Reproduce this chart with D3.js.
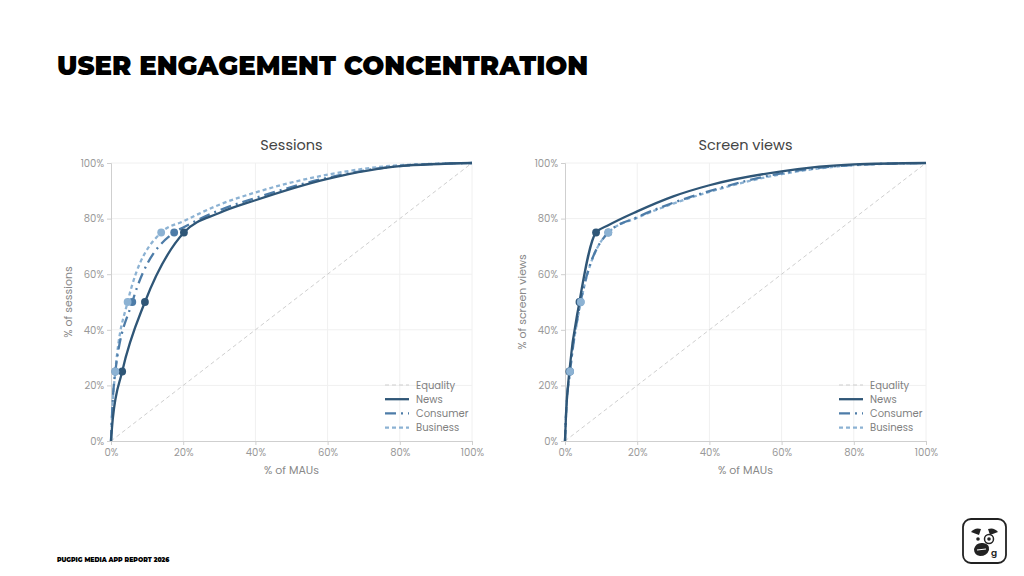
<!DOCTYPE html>
<html><head><meta charset="utf-8">
<script src="https://cdn.jsdelivr.net/npm/d3@7"></script>
<style>
html,body{margin:0;padding:0;background:#fff;}
svg{display:block;}
</style></head>
<body>
<svg id="c" width="1024" height="576"></svg>
<script>
// ---- data ----
const seriesNames = ["News", "Consumer", "Business"];
const xTicks = [0, 20, 40, 60, 80, 100];
const yTicks = [0, 20, 40, 60, 80, 100];
const markerLevels = [25, 50, 75];

// Sessions panel
const sessNewsX = [0, 0.5, 3.1, 9.4, 20.2, 30, 40, 60, 80, 100];
const sessNewsY = [0, 8, 25, 50, 75, 82, 86.6, 94.3, 98.9, 100];
const sessConsX = [0, 0.3, 1.2, 5.9, 17.5, 20, 30, 40, 60, 80, 100];
const sessConsY = [0, 10, 25, 50, 75, 76.8, 83, 87.4, 94.7, 98.9, 100];
const sessBusX = [0, 0.3, 1.2, 4.6, 13.9, 20, 30, 40, 60, 80, 100];
const sessBusY = [0, 10, 25, 50, 75, 79, 85, 89.4, 95.8, 99.2, 100];

// Screen views panel
const scrNewsX = [0, 0.3, 1.2, 4.0, 8.6, 12, 20, 30, 40, 60, 80, 100];
const scrNewsY = [0, 10, 25, 50, 75, 77.6, 82.6, 88, 92, 97, 99.5, 100];
const scrConsX = [0, 0.3, 1.4, 4.3, 12.0, 20, 30, 40, 60, 80, 100];
const scrConsY = [0, 10, 25, 50, 75, 80.5, 85.7, 89.9, 96.3, 99.3, 100];
const scrBusX = [0, 0.3, 1.4, 4.4, 12.0, 20, 30, 40, 60, 80, 100];
const scrBusY = [0, 10, 25, 50, 75, 80.3, 85.4, 89.6, 96.0, 99.2, 100];

const panels = [
  {title: "Sessions", yLabel: "% of sessions", left: 111,
   series: [[sessNewsX, sessNewsY], [sessConsX, sessConsY], [sessBusX, sessBusY]]},
  {title: "Screen views", yLabel: "% of screen views", left: 565,
   series: [[scrNewsX, scrNewsY], [scrConsX, scrConsY], [scrBusX, scrBusY]]}
];

// ---- styles ----
const colors = {News: "#2f5677", Consumer: "#4d7ca8", Business: "#8cb2d3"};
const dashes = {News: null, Consumer: "11,5,2,5", Business: "4,3"};
const font = "Poppins, 'Open Sans', Lato, sans-serif";

const svg = d3.select("#c");

// Title
svg.append("text").attr("x", 57).attr("y", 75)
  .attr("font-family", "Montserrat, Lato, 'Open Sans', sans-serif")
  .attr("font-weight", 900).attr("font-size", 26).attr("fill", "#000")
  .text("USER ENGAGEMENT CONCENTRATION");

// Footer
svg.append("text").attr("x", 57).attr("y", 561.5)
  .attr("font-family", "Montserrat, Lato, sans-serif")
  .attr("font-weight", 900).attr("font-size", 6.2).attr("fill", "#000")
  .text("PUGPIG MEDIA APP REPORT 2026");

const W = 361, H = 278, TOP = 163;

panels.forEach(p => {
  const g = svg.append("g").attr("transform", `translate(${p.left},${TOP})`);
  const x = d3.scaleLinear().domain([0, 100]).range([0, W]);
  const y = d3.scaleLinear().domain([0, 100]).range([H, 0]);

  // grid
  g.append("g").selectAll("line.gx").data(xTicks.filter(d => d > 0)).join("line")
    .attr("x1", d => x(d)).attr("x2", d => x(d)).attr("y1", 0).attr("y2", H)
    .attr("stroke", "#f0f0f0").attr("stroke-width", 1);
  g.append("g").selectAll("line.gy").data(yTicks.filter(d => d > 0)).join("line")
    .attr("y1", d => y(d)).attr("y2", d => y(d)).attr("x1", 0).attr("x2", W)
    .attr("stroke", "#f0f0f0").attr("stroke-width", 1);

  // axes
  const xa = g.append("g").attr("transform", `translate(0,${H})`)
    .call(d3.axisBottom(x).tickValues(xTicks).tickFormat(d => d + "%").tickSize(4).tickPadding(4));
  const ya = g.append("g")
    .call(d3.axisLeft(y).tickValues(yTicks).tickFormat(d => d + "%").tickSize(4).tickPadding(3));
  [xa, ya].forEach(a => {
    a.select(".domain").attr("stroke", "#cfcfcf");
    a.selectAll(".tick line").attr("stroke", "#cfcfcf");
    a.selectAll("text").attr("fill", "#999").attr("font-size", 10)
      .attr("font-family", font);
  });

  // titles
  g.append("text").attr("x", W / 2).attr("y", -13).attr("text-anchor", "middle")
    .attr("font-family", font).attr("font-size", 14.5).attr("fill", "#444").text(p.title);
  g.append("text").attr("x", W / 2).attr("y", H + 33).attr("text-anchor", "middle")
    .attr("font-family", font).attr("font-size", 11).attr("fill", "#888").text("% of MAUs");
  g.append("text").attr("transform", `translate(-39,${H / 2}) rotate(-90)`)
    .attr("text-anchor", "middle")
    .attr("font-family", font).attr("font-size", 11).attr("fill", "#888").text(p.yLabel);

  // equality
  g.append("line").attr("x1", x(0)).attr("y1", y(0)).attr("x2", x(100)).attr("y2", y(100))
    .attr("stroke", "#cfcfcf").attr("stroke-width", 1).attr("stroke-dasharray", "4,3");

  const line = d3.line().x(d => x(d[0])).y(d => y(d[1])).curve(d3.curveMonotoneX);

  // draw in reverse so News line is on top
  [2, 1, 0].forEach(i => {
    const name = seriesNames[i];
    const [xs, ys] = p.series[i];
    const pts = xs.map((v, k) => [v, ys[k]]);
    g.append("path").datum(pts).attr("d", line).attr("fill", "none")
      .attr("stroke", colors[name]).attr("stroke-width", 2.3)
      .attr("stroke-dasharray", dashes[name]);
  });
  // markers: Business drawn last (on top)
  [0, 1, 2].forEach(i => {
    const name = seriesNames[i];
    const [xs, ys] = p.series[i];
    const pts = xs.map((v, k) => [v, ys[k]]).filter(d => markerLevels.includes(d[1]));
    g.append("g").selectAll("circle").data(pts).join("circle")
      .attr("cx", d => x(d[0])).attr("cy", d => y(d[1])).attr("r", 3.9)
      .attr("fill", colors[name]);
  });

  // legend
  const leg = g.append("g").attr("transform", `translate(${W - 87},${H - 56})`);
  const legItems = [{n: "Equality", c: "#cfcfcf", d: "4,3", w: 1}]
    .concat(seriesNames.map(n => ({n, c: colors[n], d: dashes[n], w: 2.3})));
  legItems.forEach((it, k) => {
    const yy = k * 14.2;
    leg.append("line").attr("x1", 0).attr("x2", 24).attr("y1", yy).attr("y2", yy)
      .attr("stroke", it.c).attr("stroke-width", it.w).attr("stroke-dasharray", it.d);
    leg.append("text").attr("x", 31).attr("y", yy + 3.6)
      .attr("font-family", font).attr("font-size", 10).attr("fill", "#808080").text(it.n);
  });
});

// logo
const lg = svg.append("g").attr("transform", "translate(962,518)");
lg.append("rect").attr("x", 1).attr("y", 1).attr("width", 43).attr("height", 44).attr("rx", 8)
  .attr("fill", "#fff").attr("stroke", "#222").attr("stroke-width", 1.8);
// ears
lg.append("path").attr("d", "M9,14 Q13,9 19,11 L17,17 Z").attr("fill", "#222");
lg.append("path").attr("d", "M36,14 Q32,9 26,11 L28,17 Z").attr("fill", "#222");
// eyes / monocle
lg.append("circle").attr("cx", 16).attr("cy", 21).attr("r", 1.8).attr("fill", "#222");
lg.append("circle").attr("cx", 27).attr("cy", 21).attr("r", 4.5).attr("fill", "none").attr("stroke", "#222").attr("stroke-width", 1.5);
lg.append("circle").attr("cx", 27).attr("cy", 21).attr("r", 1.8).attr("fill", "#222");
// muzzle
lg.append("path").attr("d", "M12,31 Q14,24 21,25 Q28,26 27,32 Q25,38 18,38 Q12,37 12,31 Z").attr("fill", "#222");
lg.append("path").attr("d", "M15,32 L24,31").attr("stroke", "#fff").attr("stroke-width", 1.2);
lg.append("text").attr("x", 29).attr("y", 38).attr("font-family", font).attr("font-weight", 600)
  .attr("font-size", 9).attr("fill", "#222").text("g");
</script>
</body></html>
